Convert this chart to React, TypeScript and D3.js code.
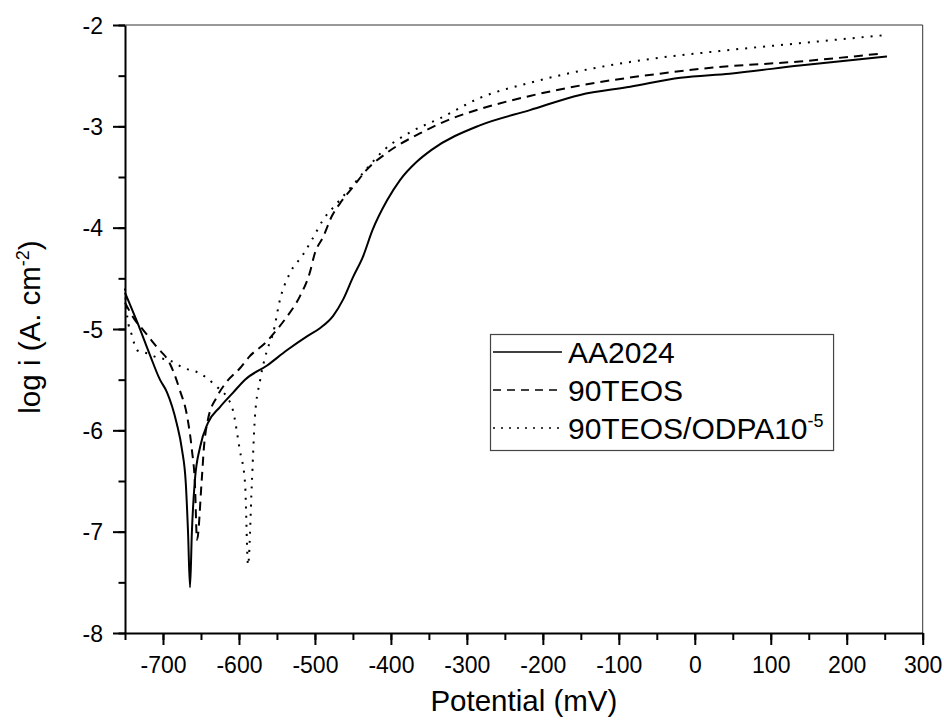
import React, { useEffect, useRef } from 'react';
import * as d3 from 'd3';

// polarisation curves: potential (mV) vs log i (A.cm-2)
const aaPotential = [-750, -734, -717, -704, -695, -682, -675, -670, -667, -664.4, -662, -658, -651, -641, -625, -608, -592, -563, -537, -510, -493, -476, -463, -450, -437, -424, -405, -388, -366, -346, -283, -217, -151, -85, -19, 46, 138, 253];
const aaLogI = [-4.64, -4.93, -5.26, -5.50, -5.62, -5.93, -6.19, -6.52, -7.01, -7.55, -7.01, -6.49, -6.16, -5.93, -5.77, -5.63, -5.50, -5.36, -5.21, -5.07, -4.99, -4.87, -4.71, -4.49, -4.29, -4.02, -3.73, -3.53, -3.35, -3.23, -2.99, -2.84, -2.69, -2.61, -2.52, -2.48, -2.40, -2.31];

const teosPotential = [-750, -737, -726, -708, -691, -678, -668, -662, -658, -655.2, -649, -646, -641, -629, -616, -599, -586, -563, -555, -537, -520, -507, -500, -489, -478, -467, -450, -432, -405, -362, -322, -283, -217, -138, -46, 24, 138, 248];
const teosLogI = [-4.74, -4.91, -5.01, -5.18, -5.34, -5.60, -5.87, -6.19, -6.52, -7.08, -6.49, -6.16, -5.90, -5.67, -5.52, -5.39, -5.27, -5.12, -5.05, -4.88, -4.68, -4.45, -4.25, -4.09, -3.89, -3.76, -3.60, -3.43, -3.26, -3.07, -2.93, -2.83, -2.70, -2.58, -2.48, -2.42, -2.36, -2.28];

const odpaPotential = [-750, -747, -741, -734, -721, -708, -691, -674, -651, -629, -616, -608, -599, -592, -588, -583, -579, -572, -563, -555, -546, -533, -516, -504, -489, -471, -450, -432, -410, -375, -335, -283, -217, -142, -63, 16, 138, 250];
const odpaLogI = [-4.60, -4.88, -5.06, -5.21, -5.24, -5.28, -5.31, -5.38, -5.44, -5.57, -5.67, -5.80, -6.19, -6.52, -7.33, -6.52, -5.87, -5.50, -5.21, -5.04, -4.71, -4.45, -4.27, -4.12, -3.92, -3.76, -3.58, -3.42, -3.24, -3.06, -2.92, -2.72, -2.57, -2.44, -2.34, -2.27, -2.18, -2.10];

const seriesNames = ['AA2024', '90TEOS', '90TEOS/ODPA10'];
const seriesDash = ['none', '9,6', '2,7'];

const xTicks = [-700, -600, -500, -400, -300, -200, -100, 0, 100, 200, 300];
const xMinorTicks = d3.range(-750, 301, 50);
const yTicks = [-8, -7, -6, -5, -4, -3, -2];
const yMinorTicks = d3.range(-8, -1.99, 0.5);

const FONT = 'Arial, "Liberation Sans", Helvetica, sans-serif';

const App = () => {
  const svgRef = useRef<SVGSVGElement>(null);

  useEffect(() => {
    const svg = d3.select(svgRef.current);
    svg.selectAll('*').remove();

    const margin = { top: 25, right: 21.3, bottom: 91, left: 125 };
    const width = 944 - margin.left - margin.right;
    const height = 724 - margin.top - margin.bottom;

    const x = d3.scaleLinear().domain([-750, 300]).range([margin.left, margin.left + width]);
    const y = d3.scaleLinear().domain([-8, -2]).range([margin.top + height, margin.top]);

    // thin frame on top and right
    svg.append('line')
      .attr('x1', x(-750)).attr('x2', x(300))
      .attr('y1', y(-2)).attr('y2', y(-2))
      .attr('stroke', '#333').attr('stroke-width', 1);
    svg.append('line')
      .attr('x1', x(300)).attr('x2', x(300))
      .attr('y1', y(-2)).attr('y2', y(-8))
      .attr('stroke', '#333').attr('stroke-width', 1);

    // x axis: minor then major
    const gxMinor = svg.append('g')
      .attr('transform', `translate(0,${y(-8)})`)
      .call(d3.axisBottom(x).tickValues(xMinorTicks).tickSize(7).tickSizeOuter(0).tickFormat(() => ''));
    gxMinor.select('.domain').attr('stroke-width', 2);
    gxMinor.selectAll('line').attr('stroke-width', 2);

    const gx = svg.append('g')
      .attr('transform', `translate(0,${y(-8)})`)
      .call(d3.axisBottom(x).tickValues(xTicks).tickSize(12).tickSizeOuter(0).tickFormat(d => String(d)));
    gx.select('.domain').remove();
    gx.selectAll('line').attr('stroke-width', 2);
    gx.selectAll('text')
      .attr('y', 40).attr('dy', 0)
      .attr('font-size', 23).attr('font-family', FONT).attr('fill', '#000');

    // y axis: minor then major
    const gyMinor = svg.append('g')
      .attr('transform', `translate(${x(-750)},0)`)
      .call(d3.axisLeft(y).tickValues(yMinorTicks).tickSize(6.5).tickSizeOuter(0).tickFormat(() => ''));
    gyMinor.select('.domain').attr('stroke-width', 2);
    gyMinor.selectAll('line').attr('stroke-width', 2);

    const gy = svg.append('g')
      .attr('transform', `translate(${x(-750)},0)`)
      .call(d3.axisLeft(y).tickValues(yTicks).tickSize(12).tickSizeOuter(0).tickFormat(d => String(d)));
    gy.select('.domain').remove();
    gy.selectAll('line').attr('stroke-width', 2);
    gy.selectAll('text')
      .attr('x', -22).attr('dy', '0.36em')
      .attr('font-size', 23).attr('font-family', FONT).attr('fill', '#000');

    // curves
    const series = [
      { p: aaPotential, v: aaLogI },
      { p: teosPotential, v: teosLogI },
      { p: odpaPotential, v: odpaLogI },
    ];
    series.forEach((s, k) => {
      const line = d3.line<number>()
        .x((d, i) => x(s.p[i]))
        .y(d => y(d))
        .curve(d3.curveMonotoneX);
      svg.append('path')
        .datum(s.v)
        .attr('d', line)
        .attr('fill', 'none')
        .attr('stroke', '#000')
        .attr('stroke-width', 2)
        .attr('stroke-dasharray', seriesDash[k]);
    });

    // axis titles
    svg.append('text')
      .attr('x', (x(-750) + x(300)) / 2)
      .attr('y', 711)
      .attr('text-anchor', 'middle')
      .attr('font-size', 29.5).attr('font-family', FONT)
      .text('Potential (mV)');

    const yt = svg.append('text')
      .attr('transform', `translate(40,327) rotate(-90)`)
      .attr('text-anchor', 'middle')
      .attr('font-size', 29.5).attr('font-family', FONT);
    yt.append('tspan').text('log i (A. cm');
    yt.append('tspan').attr('dy', -11).attr('font-size', 18).text('-2');
    yt.append('tspan').attr('dy', 11).text(')');

    // legend
    const legend = svg.append('g');
    const rowY = [352, 390, 428];
    const items = legend.selectAll('g.item')
      .data(seriesNames)
      .enter().append('g')
      .attr('class', 'item');
    items.append('line')
      .attr('x1', 493).attr('x2', 562)
      .attr('y1', (d, i) => rowY[i]).attr('y2', (d, i) => rowY[i])
      .attr('stroke', '#000').attr('stroke-width', 1.5)
      .attr('stroke-dasharray', (d, i) => (i === 0 ? 'none' : i === 1 ? '8,6' : '2,6'));
    const labels = items.append('text')
      .attr('x', 568)
      .attr('y', (d, i) => rowY[i] + 10.5)
      .attr('font-size', 30).attr('font-family', FONT);
    labels.append('tspan').text(d => d);
    labels.filter((d, i) => i === 2)
      .append('tspan').attr('dy', -12).attr('font-size', 18).text('-5');

    const right = (labels.nodes() as SVGTextElement[])
      .map(n => n.getBBox())
      .reduce((m, b) => Math.max(m, b.x + b.width), 0);
    legend.insert('rect', ':first-child')
      .attr('x', 490.5).attr('y', 334.5)
      .attr('width', right + 10 - 490.5)
      .attr('height', 116)
      .attr('fill', '#fff')
      .attr('stroke', '#444').attr('stroke-width', 1.2);
  }, []);

  return (
    <svg
      ref={svgRef}
      width={944}
      height={724}
      style={{ position: 'absolute', left: 0, top: 0, background: '#fff' }}
    />
  );
};

export default App;
